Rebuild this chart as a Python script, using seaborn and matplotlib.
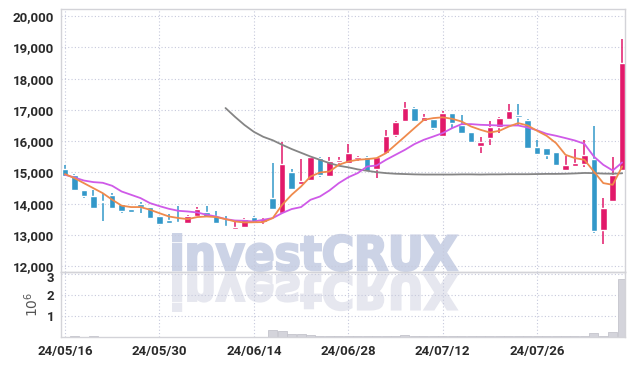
import numpy as np
import pandas as pd
import matplotlib
matplotlib.use('Agg')
import matplotlib.pyplot as plt
import seaborn as sns
from matplotlib.textpath import TextPath
from matplotlib.patches import PathPatch
from matplotlib.transforms import Affine2D, IdentityTransform, ScaledTranslation
from matplotlib.font_manager import FontProperties

# trading days 2024-05-16 .. 2024-08-08 (KRX, 6/6 closed)
dates = [d for d in pd.bdate_range('2024-05-16', '2024-08-08') if d != pd.Timestamp('2024-06-06')]

opens = [15100, 14930, 14450, 14255, 14060, 14290, 13990, 13840, 14000, 13895,
         13595, 13490, 13425, 13400, 13595, 13735, 13615, 13305, 13210, 13255,
         13575, 13415, 14180, 13720, 15000, 14630, 14765, 15460, 14895, 15340,
         15300, 15430, 15480, 15120, 15620, 16200, 16630, 17060, 16630, 16715,
         16180, 16900, 16520, 16290, 15860, 16100, 16440, 16720, 16840, 16680,
         15830, 15780, 15650, 15085, 15210, 15280, 15430, 13150, 14075, 15065]
highs = [15250, 14960, 14450, 14450, 14340, 14360, 13990, 13840, 14070, 13900,
         13600, 13680, 13935, 13650, 13895, 13935, 13785, 13615, 13435, 13560,
         13600, 13545, 15300, 15960, 15100, 15430, 15510, 15510, 15490, 15490,
         15910, 15530, 15540, 15500, 16360, 16640, 17250, 17100, 16870, 16715,
         16970, 16900, 16840, 16290, 16140, 16630, 16780, 17190, 17190, 16700,
         16040, 15780, 15650, 15530, 15750, 16040, 16470, 14180, 15510, 19260]
lows = [14900, 14420, 14180, 13880, 13455, 13860, 13720, 13700, 13720, 13560,
        13360, 13385, 13370, 13370, 13595, 13575, 13370, 13255, 13210, 13255,
        13385, 13350, 13830, 13720, 14480, 14585, 14740, 14850, 14895, 15250,
        15300, 15380, 15010, 14820, 15620, 16150, 16630, 16630, 16630, 16365,
        16180, 16420, 16260, 15950, 15620, 15880, 16260, 16720, 16500, 15780,
        15600, 15430, 15220, 15085, 15190, 15190, 13065, 12720, 14075, 15065]
closes = [14900, 14425, 14235, 13880, 14050, 13860, 13755, 13735, 13895, 13560,
          13360, 13385, 13370, 13615, 13840, 13575, 13370, 13255, 13265, 13510,
          13385, 13520, 13830, 15278, 14480, 14715, 15480, 14925, 15375, 15405,
          15620, 15480, 15055, 15490, 16170, 16610, 17060, 16630, 16760, 16420,
          16900, 16580, 16260, 15990, 15970, 16450, 16740, 16970, 16760, 15780,
          15600, 15565, 15245, 15245, 15300, 15545, 13140, 13860, 14925, 18515]
# volume, millions of shares
volume = [0.01, 0.06, 0.01, 0.06, 0.01, 0.01, 0.01, 0.01, 0.01, 0.01,
          0.01, 0.01, 0.01, 0.01, 0.01, 0.01, 0.01, 0.01, 0.01, 0.01,
          0.01, 0.02, 0.34, 0.29, 0.13, 0.13, 0.08, 0.07, 0.05, 0.04,
          0.06, 0.05, 0.05, 0.04, 0.07, 0.06, 0.08, 0.05, 0.05, 0.04,
          0.04, 0.03, 0.04, 0.04, 0.03, 0.04, 0.04, 0.04, 0.07, 0.05,
          0.04, 0.03, 0.04, 0.03, 0.03, 0.05, 0.17, 0.05, 0.23, 2.75]
ma5 = [14950, 14820, 14660, 14500, 14340, 14130, 13940, 13895, 13895, 13810,
       13700, 13595, 13545, 13510, 13575, 13594, 13575, 13511, 13435, 13403,
       13410, 13415, 13543, 13968, 14288, 14553, 14872, 15000, 15032, 15246,
       15351, 15406, 15428, 15460, 15620, 15885, 16150, 16419, 16684, 16738,
       16764, 16716, 16629, 16470, 16364, 16278, 16332, 16470, 16578, 16502,
       16332, 16173, 15939, 15565, 15460, 15406, 15032, 14661, 14607, 15192]
ma20 = [14927, 14840, 14744, 14693, 14671, 14575, 14393, 14288, 14182, 14022,
        13926, 13840, 13776, 13754, 13722, 13649, 13594, 13511, 13466, 13457,
        13434, 13489, 13543, 13703, 13831, 13895, 14128, 14233, 14425, 14661,
        14847, 14981, 15192, 15224, 15406, 15566, 15725, 15907, 16045, 16150,
        16259, 16419, 16546, 16546, 16524, 16514, 16502, 16502, 16502, 16438,
        16348, 16236, 16173, 16099, 16022, 15917, 15511, 15246, 15064, 15320]
ma60 = [np.nan] * 17 + [
        17060, 16780, 16520, 16300, 16140, 16030, 15885, 15750, 15630, 15510,
        15405, 15300, 15215, 15165, 15100, 15055, 15010, 14980, 14960, 14950,
        14940, 14935, 14935, 14935, 14935, 14940, 14940, 14935, 14940, 14940,
        14945, 14945, 14945, 14950, 14955, 14955, 14960, 14970, 14985, 14980,
        14965, 14960, 14975]
tick_idx = [0, 10, 20, 30, 40, 50]
tick_labels = ['24/05/16', '24/05/30', '24/06/14', '24/06/28', '24/07/12', '24/07/26']

df = pd.DataFrame({'date': dates, 'open': opens, 'high': highs, 'low': lows,
                   'close': closes, 'volume': volume,
                   'ma5': ma5, 'ma20': ma20, 'ma60': ma60})
df['idx'] = np.arange(len(df))

sns.set_theme(style='white')
plt.rcParams['font.family'] = ['Roboto', 'DejaVu Sans']

UP = '#e2196a'
DOWN = '#3398c9'
GRID = '#c6c9dc'
TICKFONT = dict(fontweight='bold', fontsize=9.5)

fig = plt.figure(figsize=(6.34, 3.66), dpi=100)
ax = fig.add_axes([61 / 634, 94 / 366, 564 / 634, 263 / 366])
axv = fig.add_axes([61 / 634, 29 / 366, 564 / 634, 65 / 366], sharex=ax)
for a in (ax, axv):
    a.set_facecolor('none')
    a.grid(True, color=GRID, linestyle=(0, (1, 2)), linewidth=0.8)
    a.set_axisbelow(True)
    for s in a.spines.values():
        s.set_color('#d3d3d8')
        s.set_linewidth(1)
    a.tick_params(length=0, labelcolor='#2a2a2a', pad=5)

# candles
up = df['close'] >= df['open']
colors = np.where(up, UP, DOWN)
body_lo = np.minimum(df['open'], df['close'])
body_h = np.maximum((df['close'] - df['open']).abs(), 25)
ax.vlines(df['idx'], df['low'], df['high'], colors=colors, linewidth=1.1, zorder=2)
ax.bar(df['idx'], body_h, bottom=body_lo, width=0.7, color=colors, zorder=3)

# moving averages
sns.lineplot(data=df, x='idx', y='ma60', ax=ax, color='#858585', linewidth=1.3, zorder=4)
sns.lineplot(data=df, x='idx', y='ma20', ax=ax, color='#cf5ae8', linewidth=1.3, zorder=4)
sns.lineplot(data=df, x='idx', y='ma5', ax=ax, color='#ef8a4c', linewidth=1.3, zorder=5)

ax.set_ylim(11820, 20225)
ax.set_yticks(range(12000, 20001, 1000))
ax.set_yticklabels([f'{v:,}' for v in range(12000, 20001, 1000)], **TICKFONT)
ax.set_xlabel('')
ax.set_ylabel('')
ax.tick_params(axis='x', labelbottom=False)

# volume
axv.bar(df['idx'], df['volume'], width=0.95, color='#d4d4db', edgecolor='#c4c4cc',
        linewidth=0.6, zorder=2)
axv.set_ylim(0, 3.1)
axv.set_yticks([1, 2, 3])
vlabels = axv.set_yticklabels(['1', '2', '3'], **TICKFONT)
# nudge the top label down a little so it clears "12,000"
vlabels[-1].set_transform(vlabels[-1].get_transform()
                          + ScaledTranslation(0, -3 / 100, fig.dpi_scale_trans))
axv.set_ylabel(r'$10^6$', fontsize=10, color='#555555', labelpad=4)
axv.set_xlim(-0.42, 59.3)
axv.set_xticks(tick_idx)
axv.set_xticklabels(tick_labels, **TICKFONT)
axv.tick_params(axis='x', pad=6)

# watermark + reflection (heavy text, outlined to thicken strokes)
tp = TextPath((0, 0), 'investCRUX', size=100,
              prop=FontProperties(family='DejaVu Sans', weight='bold'))
bb = tp.get_extents()
stroke = 2.5  # px
sx = (286 - stroke) / bb.width
sy = (39 - stroke) / bb.height
x0 = 172 + stroke / 2
main_tr = Affine2D().translate(-bb.x0, -bb.y0).scale(sx, sy).translate(x0, 94 + stroke / 2)
refl_tr = Affine2D().translate(-bb.x0, -bb.y0).scale(sx, -sy).translate(x0, 93 - stroke / 2)
for tr, col in ((main_tr, '#ccd3e6'), (refl_tr, '#e6e7ef')):
    ax.add_artist(PathPatch(tr.transform_path(tp), transform=IdentityTransform(),
                            fc=col, ec=col, lw=stroke * 72 / 100, joinstyle='miter',
                            zorder=0.2, clip_on=False))

fig.savefig('out.png', dpi=100)
